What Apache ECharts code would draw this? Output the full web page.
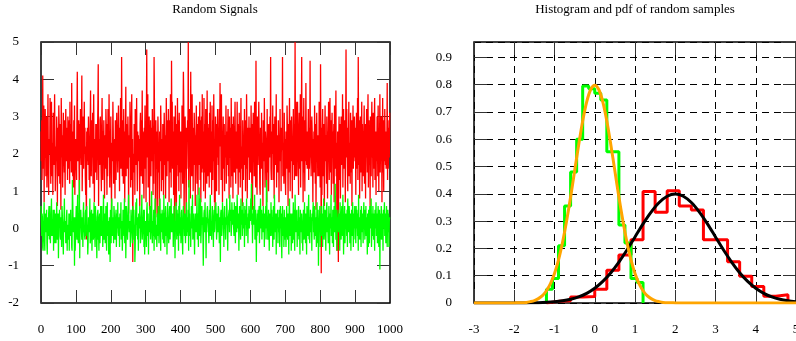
<!DOCTYPE html>
<html>
<head>
<meta charset="utf-8">
<script src="https://cdn.jsdelivr.net/npm/echarts@6/dist/echarts.min.js"></script>
<style>
  html, body { margin: 0; padding: 0; background: #fff; }
  #main { width: 796px; height: 341px; }
</style>
</head>
<body>
<div id="main"></div>
<script>
// signal samples, x = 0..999, 25 per row
const redSignal = [
  2.6, 1.8, 2.9, 1.3, 2.2, 4.1, 1.6, 2.5, 3.3, 0.7, 2.8, 1.9, 3.2, 2.4, 1.4, 2.8, 3.0, 1.1, 2.2, 2.5, 3.6, 1.5, 0.9, 2.4, 2.1,
  2.0, 3.5, 2.3, 1.2, 2.9, 3.4, 1.6, 1.4, 2.3, 0.9, 3.1, 2.7, 1.7, 2.6, 3.6, 2.2, 1.0, 1.5, 2.2, 1.8, 3.0, 2.4, 0.6, 2.7, 2.1,
  1.4, 3.3, 2.8, 2.1, 1.2, 2.8, 1.9, 0.5, 3.5, 2.6, 1.9, 2.5, 1.1, 1.7, 3.1, 2.0, 2.3, 1.5, 2.9, 0.9, 2.5, 3.2, 2.3, 1.8, 2.7,
  2.4, 1.3, 3.0, 2.0, 1.6, 2.2, 2.9, 1.2, 3.4, 1.8, 2.6, 2.8, 1.5, 3.9, 2.1, 2.0, 1.4, 2.6, 1.1, 2.9, 1.6, 3.3, 0.9, 2.2, 2.3,
  2.4, 1.7, 1.3, 3.1, 4.2, 2.2, 1.8, 2.5, 2.9, 1.6, 0.8, 2.8, 2.2, 3.2, 2.0, 1.7, 2.6, 4.1, 1.0, 1.9, 2.6, 3.0, 1.6, 2.3, 3.4,
  2.0, 2.7, 1.4, 0.9, 2.2, -0.3, 2.6, 1.8, 2.7, 2.4, 1.7, 3.0, 2.5, 1.3, 2.3, 1.1, 2.8, 3.7, 2.0, 1.4, 2.1, 2.9, 1.9, 3.1, 1.2,
  2.5, 3.6, 1.9, 0.7, 2.4, 2.2, 1.5, 2.8, 2.1, 2.8, 1.3, 1.9, 2.6, 3.3, 4.4, 0.6, 2.4, 2.0, 1.7, 2.9, 3.0, 2.2, 1.6, 1.0, 2.7,
  3.5, 2.1, 1.3, 2.6, 2.0, 2.9, 1.8, 0.8, 2.5, 2.3, 1.6, 3.2, 2.7, 2.1, 0.9, 2.8, 1.4, 3.2, 2.5, 1.9, 3.6, 2.3, 1.1, 2.6, 2.0,
  3.0, 1.5, 0.5, 2.3, 2.2, 1.8, 3.4, 2.6, 1.2, 2.0, 1.7, 2.4, 0.8, 2.9, 2.6, 1.3, 2.2, 3.1, 1.9, 2.0, 1.5, 2.7, 3.3, 1.8, 2.2,
  1.0, 2.7, 2.4, 3.5, 1.6, 2.0, 4.6, 2.3, 1.4, 2.9, 2.5, 1.2, 3.2, 2.2, 2.0, 0.7, 2.6, 2.4, 3.8, 1.4, 2.8, 2.1, 1.6, 1.8, 3.0,
  2.3, 0.4, 2.5, 2.2, 1.9, 3.4, 2.7, 1.1, 2.0, 2.7, 3.6, 1.3, 2.4, -0.9, 2.0, 1.6, 1.5, 2.8, 2.4, 0.9, 3.2, 2.6, 2.2, 1.7, 3.5,
  1.9, 1.0, 2.6, 2.1, 2.5, 1.8, 2.4, 1.4, 0.6, 2.8, 3.1, 2.0, 1.4, 2.9, 2.3, 3.7, 1.2, 2.6, 2.3, 1.5, 0.8, 2.7, 2.1, 3.3, 1.6,
  2.6, 0.7, 2.8, 4.8, 1.9, 2.4, 3.6, 1.1, 2.0, 2.4, 3.0, 0.5, 2.2, 1.7, 2.9, 1.4, 2.7, 2.0, 1.8, 3.2, 2.5, 0.9, 2.5, 1.2, 4.6,
  3.4, 2.1, 2.0, 0.4, 2.9, 1.6, 2.3, 2.6, 0.3, 1.8, 3.0, 2.4, 1.5, 2.2, 0.2, 2.6, 1.9, 1.8, 3.3, 2.7, 1.0, 2.4, 2.1, 1.3, 2.8,
  2.3, 0.9, 2.1, 3.1, 2.5, 1.7, 2.5, 0.8, 2.0, 3.5, 2.2, 1.4, 2.9, 2.0, 1.8, 3.2, 2.4, 0.7, 2.9, 1.5, 2.2, 3.6, 2.0, 1.1, 4.5,
  2.6, 3.4, 1.6, 2.3, 2.6, 0.9, 3.0, 1.9, -0.1, 1.2, 3.3, 2.1, 2.1, 0.6, 2.8, 1.7, 3.5, 2.2, 1.4, 2.9, 1.0, 3.1, 2.4, 1.5, 2.0,
  2.6, 0.8, 2.6, 1.5, 3.3, 2.2, 1.2, 2.8, 4.2, 3.4, 0.2, 1.9, 2.5, 3.0, 2.1, 1.3, 0.2, 2.7, 1.6, 2.4, 2.9, 2.4, 5.0, 1.1, 1.8,
  3.2, 2.6, 2.9, 0.8, 4.2, 2.0, 2.7, 1.4, 3.6, 2.3, 2.2, 1.0, 2.7, 1.7, 3.1, 2.6, 2.3, 0.6, 2.5, 1.9, 3.3, 2.0, 1.2, 2.8, 2.1,
  0.9, 3.0, 2.3, 1.7, 2.5, 3.4, 1.3, 2.9, 0.7, 2.2, 3.0, 1.5, 3.6, 1.6, 2.4, 2.6, 1.0, 3.5, 2.1, 1.5, 2.8, 0.8, 3.2, 1.9, 2.6,
  1.2, 3.7, 2.3, 1.4, 2.7, 2.0, 2.8, 1.1, 3.1, 2.3, 3.4, 1.5, 2.0, 2.6, 0.9, 3.3, 2.2, 1.3, 2.9, 1.8, 3.6, 2.4, 0.7, 2.4, 0.2,
  3.0, 2.2, 2.1, 1.0, 2.8, 1.9, 3.2, 2.7, 1.7, 2.5, 0.9, 3.2, 2.3, 3.9, 2.2, 2.9, 1.3, 3.6, 1.8, 2.6, 0.7, 2.4, 3.0, 1.6, 2.1,
  2.8, 1.0, 2.5, 1.9, 2.1, 3.3, 1.2, 2.6, 2.6, 1.7, 2.5, 3.2, 1.4, 2.3, 0.8, 3.0, 2.0, 1.9, 2.7, 1.1, 3.5, 2.4, 1.4, 2.8, 2.3,
  0.8, 3.0, 1.9, 2.2, 1.5, 2.7, 3.4, 2.0, 1.2, 2.5, 2.6, 1.6, 3.4, 2.2, 2.0, 0.9, 2.8, 1.5, 3.1, 1.8, 2.3, 1.1, 2.6, 3.5, 1.6,
  2.2, 1.8, 0.6, 2.9, 2.4, 1.3, 2.3, 1.7, 3.2, 2.0, 2.4, 1.0, 2.9, 1.6, 3.6, 2.5, 0.8, 2.2, 2.7, 1.9, 2.2, 3.0, 1.3, 2.7, 2.0,
  1.5, 2.2, 3.3, 2.1, 1.2, 2.8, 0.5, 2.1, 3.1, 1.9, 2.4, 1.4, 3.4, 2.6, 2.0, 1.1, 4.5, 1.8, 2.7, 0.9, 3.0, 2.3, 1.7, 2.5, 3.4,
  2.6, 2.0, 1.1, 0.9, 2.7, 2.3, 1.6, 3.1, 2.0, 2.3, 1.3, 0.6, 2.9, 2.5, 1.8, 3.5, 2.2, 1.1, 2.6, 2.4, 2.0, 1.5, 0.7, 3.2, 1.5,
  2.8, 2.6, 1.0, 2.1, 2.8, 1.9, 3.0, 2.4, 4.6, 1.6, 1.3, 2.6, 2.2, 2.0, 3.3, 1.3, 2.7, 2.8, 0.8, 2.2, 3.0, 1.7, 2.4, 2.0, 3.6,
  1.1, 2.5, 2.0, 1.6, 1.5, 2.9, 2.3, 0.7, 2.5, 1.9, 3.2, 1.8, 2.6, 1.0, 2.7, 2.3, 2.1, 4.6, 1.4, 2.0, 2.3, 1.2, 3.1, 1.9, 2.4,
  1.3, 0.9, 2.6, 2.1, 1.6, 3.3, 2.7, 2.0, 0.6, 2.8, 1.5, 2.2, 3.5, 2.2, 1.0, 2.5, 2.9, 1.8, 3.0, 2.3, 0.8, 2.4, 1.7, 3.2, 2.1,
  2.8, 1.3, 2.0, 5.0, 2.7, 1.4, 3.4, 2.1, 1.4, 2.3, 3.4, 2.6, 2.0, 0.9, 2.5, 3.1, 1.6, 2.2, 3.6, 1.1, 2.4, 2.8, 4.6, 1.8, 3.0,
  2.2, 0.7, 2.4, 3.5, 1.5, 2.1, 1.0, 2.9, 1.8, 3.9, 2.3, 1.7, 2.6, 1.6, 2.5, 2.2, 3.2, 1.3, 2.7, 1.6, 2.0, 4.5, 1.9, 2.9, 1.4,
  2.2, 3.0, 2.6, 2.0, 0.7, 2.4, 1.8, 2.6, 1.5, 3.3, 2.1, 1.2, 2.8, 0.5, 2.1, 3.1, 1.9, 2.4, 1.4, 2.5, 2.0, 1.4, 3.4, 2.6, 2.0,
  1.1, 4.4, 2.0, -1.2, 2.7, 0.9, 2.6, 3.2, 1.4, 2.2, 2.8, 1.7, 0.6, 2.4, 3.3, 1.8, 2.5, 2.1, 1.2, 3.0, 2.3, 0.8, 2.6, 1.9, 3.4,
  2.0, 1.3, 2.7, 3.5, 2.1, 1.5, 2.9, 0.9, 2.4, 3.1, 1.9, 2.6, 1.2, 2.2, 2.8, 0.7, 3.3, 2.0, 1.6, 2.5, 3.7, 1.4, 2.3, -0.6, 1.0,
  2.6, 1.5, -0.9, 2.2, 3.0, 1.3, 2.7, 2.8, 0.8, 2.2, 3.0, 1.7, 2.4, 2.0, 3.6, 1.1, 2.5, 3.2, 1.6, 1.9, 2.9, 2.3, 0.7, 2.5, 4.8,
  1.9, 3.2, 2.3, 1.8, 1.0, 2.7, 2.1, 3.4, 1.4, 2.0, 2.3, 1.2, 3.1, 2.6, 1.5, 2.9, 0.6, 2.8, 2.0, 3.3, 1.6, 2.4, 1.9, 3.0, 2.2,
  1.8, 2.7, 0.9, 2.5, 3.1, 1.6, 2.2, 3.5, 1.3, 4.6, 2.4, 1.7, 2.9, 0.8, 2.1, 3.0, 2.6, 1.5, 2.3, 3.4, 1.0, 2.8, 2.0, 1.4, 2.6,
  2.5, 3.3, 1.2, 2.0, 2.8, 0.8, 2.6, 1.9, 3.2, 2.3, 1.5, 2.7, 3.6, 1.1, 2.2, 2.9, 1.7, 2.4, 0.6, 3.0, 2.1, 1.4, 2.7, 3.4, 1.9,
  2.4, 1.1, 3.1, 2.2, 1.6, 2.8, 3.5, 1.3, 2.0, 2.6, 0.9, 2.4, 1.8, 3.0, 2.5, 1.4, 3.3, 2.1, 1.0, 2.7, 2.2, 3.6, 1.5, 2.3, 1.8,
  3.0, 2.2, 0.7, 2.4, 3.5, 1.5, 2.1, 1.0, 2.9, 1.8, 3.2, 2.3, 1.7, 2.6, 1.6, 2.5, 2.2, 3.9, 1.3, 2.7, 1.6, 2.0, 2.9, 1.9, 3.1
]
const greenSignal = [
  0.6, 0.1, -0.2, 0.4, 0.3, -0.5, -0.6, 0.1, 0.2, 0.7, -0.3, -0.6, 0.4, 0.2, -0.1, 0.0, 0.5, -0.4, -0.7, 0.3, 0.0, -0.2, 0.4, 0.6, -0.3,
  0.6, 0.1, -0.4, 0.2, 0.3, 0.8, -0.2, 0.0, -0.2, 0.1, 0.5, -0.6, 0.3, 0.5, -0.1, -0.4, 0.2, 0.4, -0.4, 0.2, 0.7, 0.0, -0.3, 0.3, 0.4,
  -0.8, 0.2, 0.1, 0.5, 0.3, -0.2, -0.3, 0.3, 0.0, -0.5, 0.6, 0.4, 0.0, -0.3, -0.7, 0.1, 0.3, 0.8, -0.1, 0.1, 0.2, -0.4, -0.4, 0.3, 0.5,
  -0.6, 0.1, 0.1, -0.3, -0.2, 0.4, -0.6, 0.4, 0.3, -0.2, 0.5, 0.0, 0.1, -0.5, -0.6, 1.3, 0.7, 0.2, -0.1, 0.1, 0.3, -1.0, 0.3, -0.6, -0.2,
  0.2, 0.6, 0.0, -0.3, 0.4, 0.9, -0.2, -0.4, 0.4, 0.0, 1.3, -0.8, 0.2, 0.1, 0.5, 0.5, -0.1, -0.3, 0.3, 0.1, -0.5, 0.4, 0.7, -0.1, 0.0,
  -0.2, -0.3, 0.4, 0.5, -0.2, 0.1, 0.6, 0.0, 0.1, -0.7, -0.4, 0.3, 0.2, -0.1, 0.1, 0.8, -0.4, -0.3, 0.2, 0.4, 0.5, -0.6, 0.0, 0.2, 0.4,
  -0.3, -0.2, 0.7, 0.1, -0.1, -0.5, 0.6, 0.2, 0.1, -0.2, -0.8, 0.3, 0.3, 0.5, -0.3, -0.1, -0.6, 0.3, 0.4, -0.4, 0.1, 0.6, -0.2, 0.2, 0.6,
  -0.2, 0.1, -0.5, -0.1, 0.9, 0.2, -0.3, 0.4, 0.3, -0.4, 0.0, 0.6, -0.1, -0.6, 0.4, 0.7, -0.2, 0.1, 0.2, -0.7, 0.0, 0.3, 0.2, -0.9, 0.5,
  0.2, -0.4, 0.6, 0.8, -0.1, -0.2, 0.1, 0.3, -0.4, 0.6, 0.4, -0.1, -0.3, 0.0, 0.3, 0.5, -0.5, 0.2, 0.4, 0.0, 0.7, -0.1, -0.2, 0.1, 0.3,
  -0.5, 0.4, 0.2, 0.0, 0.7, -0.3, 0.1, 0.2, -0.6, -0.2, 0.5, 0.3, 0.1, -0.2, 0.8, -0.4, 0.3, 0.6, -0.8, -0.1, 0.6, 0.4, 0.0, -0.3, -0.3,
  0.4, 0.9, 0.2, -0.1, 0.0, 0.2, -0.5, -0.1, 0.5, 0.3, 0.1, -0.2, -0.4, 0.6, -0.3, 0.2, 0.5, 0.0, 0.1, -0.9, -0.5, 0.3, 0.7, 0.1, 0.8,
  -0.2, 0.3, -0.3, 0.3, -0.6, 0.4, 0.1, 0.0, 0.6, 0.2, -0.4, -0.1, 0.2, 0.4, 0.9, -0.3, -0.1, 0.3, 0.2, 0.5, -0.5, 0.5, -0.7, -0.2, 0.1,
  0.2, 0.1, -0.5, 0.5, 0.7, 0.1, -0.2, 0.4, -0.7, 0.2, 0.0, -0.1, 0.6, 0.3, -0.3, 0.3, 0.3, 1.0, -0.1, -0.4, 0.2, -0.2, 0.1, 0.5, -0.6,
  0.3, 0.2, 0.8, -0.2, -0.3, 0.1, 0.1, -0.5, 0.4, 0.0, -0.2, 0.6, 0.2, -0.4, 0.3, 0.0, 0.8, -0.1, -0.6, 0.4, 0.2, -0.1, 0.5, 0.3, -0.3,
  0.4, -0.4, 0.9, 0.0, 0.1, -0.5, 0.3, 0.6, -0.2, 0.1, 0.3, -0.7, 0.4, 0.7, 0.0, 0.0, -0.4, 0.2, 0.5, 0.6, -0.3, 0.4, 0.3, 0.8, -0.1,
  0.2, -0.1, 0.4, 0.3, -0.5, 0.0, 0.6, 0.2, 0.1, -0.8, 0.0, 0.2, 0.7, 0.4, -0.3, 0.5, 0.1, -0.2, 0.4, -0.6, 0.6, 0.1, 0.9, -0.1, -0.2,
  0.3, -0.4, 0.4, 0.5, 0.0, -0.3, -0.7, 0.2, 0.6, 0.1, 0.2, -0.2, 0.4, 0.0, -0.4, 0.1, 0.4, 0.7, -0.2, 0.2, 0.3, -0.1, 0.5, -0.6, 1.3,
  0.0, 0.4, -0.2, 0.1, -0.5, 0.1, 0.6, 0.0, 0.3, 0.9, -0.3, -0.2, 0.3, 0.4, -0.1, -0.7, 0.1, 0.2, 0.4, -0.1, 0.1, 0.3, 0.9, -0.3, 0.4,
  0.3, -0.5, 0.6, 1.1, 0.1, -0.2, 0.2, 0.8, -0.4, -0.1, 0.5, 0.6, 0.1, 0.3, -0.2, -1.0, 0.0, 0.4, 0.5, -0.1, 0.7, 0.2, 0.1, -0.8, 0.3,
  -0.1, 0.5, 0.6, 0.3, 0.2, 0.0, -0.4, 0.1, 0.5, -0.2, 0.9, 0.4, -0.2, 0.2, -0.3, 0.1, 0.6, 0.0, 0.2, -0.5, 0.3, 0.5, -0.1, 0.0, 0.6,
  0.2, 0.7, 0.3, -0.3, -0.1, 0.4, 0.2, -0.1, 0.6, 0.5, 0.0, -0.4, 0.3, 0.1, -0.9, 0.4, 0.5, 0.2, -0.2, 0.0, 0.7, 0.3, 0.1, 0.2, -0.5,
  0.4, 0.6, 0.0, 0.2, -0.3, 0.3, 0.1, 0.8, 0.5, 0.0, -0.6, 0.2, 0.3, 0.4, 0.5, -0.1, 0.9, 0.2, 0.2, 0.5, -0.2, 0.1, 0.7, 0.3, 0.1,
  0.5, 0.2, 0.0, -0.2, 0.7, 0.4, 0.1, -0.4, 0.6, 0.3, 0.3, -0.1, 0.9, 0.5, 0.0, 0.2, 0.4, -0.6, 0.1, 0.6, 0.3, 0.2, -0.3, 0.8, 0.2,
  0.1, 0.5, -0.2, 0.3, 0.7, 0.0, 0.2, 0.4, -0.5, 0.6, 0.1, 0.3, 0.5, -0.2, 0.8, 0.0, 0.3, 0.1, -0.4, 0.4, 0.2, 0.6, 0.0, 0.3, 0.5,
  0.2, 0.8, 0.6, 1.2, 0.1, 0.4, -0.4, 0.2, 0.3, 0.6, 0.1, 0.3, 0.9, -0.3, 0.0, 0.5, 0.2, -0.9, 0.0, -0.2, 0.4, 0.2, 0.5, -0.1, 0.3,
  0.6, -0.4, 0.1, 0.3, 0.8, 0.0, 0.2, 0.5, -0.3, 0.4, 0.1, -0.1, 0.6, 0.3, 0.2, -0.5, 0.4, 0.0, 0.1, 0.6, -0.3, 1.3, 0.8, 0.0, 0.2,
  -0.3, 0.2, 0.5, 0.1, -0.6, 0.3, 0.4, 0.0, -0.2, 0.7, 0.1, 0.5, -0.2, 0.3, -0.5, 0.2, 0.6, 0.1, -0.3, 0.9, 0.0, -0.1, 0.2, 0.4, -0.7,
  0.4, 0.1, 0.0, 0.5, -0.4, 0.3, 0.2, -0.1, 0.5, -0.5, 0.3, 0.6, 0.0, 0.4, -0.3, -0.8, 0.2, 0.6, 0.1, -0.2, 0.3, -0.5, 0.5, 0.1, -0.3,
  0.3, 0.0, -0.5, 0.2, 0.6, 0.1, -0.2, -0.3, 0.4, 0.2, -0.7, 0.5, 0.8, 0.0, -0.2, 0.3, 0.4, -0.6, 0.0, 0.1, 0.4, -0.4, 0.2, 0.7, -0.3,
  0.2, 0.5, -0.6, 0.9, 0.3, -0.1, 0.0, 0.4, 0.5, -0.5, 0.2, -0.2, 0.1, 0.6, -0.3, 0.3, 0.0, -0.7, 0.5, 0.3, 0.1, -0.1, 0.4, -0.4, 0.2,
  -0.6, 0.2, 0.5, 0.1, -0.3, 0.7, 0.0, 0.3, -0.4, 0.4, 0.2, -0.7, 0.6, 0.1, 0.0, -0.2, 0.5, 0.9, -0.3, 0.3, -0.4, 0.1, 0.5, -0.1, 0.0,
  0.3, -0.6, 0.4, 0.2, 0.2, 0.7, -0.1, 0.0, -0.3, 0.6, 0.4, -0.2, 0.1, 0.3, -0.5, 0.2, 0.7, 0.0, -0.4, 0.5, -1.0, 0.1, -0.1, 0.3, 0.6,
  -0.5, 0.2, 0.4, -0.2, 0.6, -0.1, 0.4, -0.5, 0.3, 0.1, 0.8, -0.3, -0.1, 0.3, 0.5, 0.0, -0.6, 0.2, 0.5, 0.7, -0.1, 0.3, 0.0, -0.4, 0.2,
  0.6, 0.1, -0.7, 0.4, 0.2, 0.0, 0.9, -0.2, 0.1, 0.3, -0.4, 0.5, 0.2, -0.5, 0.3, 0.6, 0.0, -0.1, 1.2, 0.2, -0.3, 0.5, 0.0, -0.6, 0.3,
  0.1, 0.5, 0.0, -0.1, 0.4, 0.3, -0.6, 0.7, 0.1, 0.0, -0.3, 0.4, 0.6, 0.2, -0.2, 0.9, 0.1, -0.7, 0.3, 0.2, 0.6, -0.4, 0.1, 0.4, 0.0,
  0.3, -0.2, 0.5, -0.5, 0.8, 0.2, -0.1, 0.0, 0.6, 0.3, -0.4, 0.2, 0.4, -0.6, 0.1, 0.5, -0.2, 0.3, 0.7, 0.1, -0.5, 0.4, 0.0, 0.2, 0.6,
  -0.3, 0.3, -0.4, 0.6, 0.0, 0.5, 0.2, -0.2, 0.4, -0.6, 0.9, 0.1, 0.3, -0.3, 0.2, 0.0, 0.5, -0.5, 0.6, 0.2, -0.1, 0.4, 0.1, -0.4, 0.3,
  0.7, 0.0, 0.2, -0.3, 0.5, 0.1, 0.6, -0.2, 0.3, 0.0, -0.7, 0.4, 0.2, -0.5, 0.5, 0.1, -0.4, 0.6, 0.3, 0.0, 0.2, 0.8, -0.5, 0.1, 0.4,
  -0.2, 0.6, 0.1, -0.3, 0.4, 0.2, -0.6, 0.5, 0.0, 0.3, 0.7, -0.2, 0.1, 0.4, -0.4, 0.2, 0.6, 0.0, -0.5, 0.3, 0.5, -1.1, 0.2, 0.4, -0.3,
  0.6, 0.1, -0.3, 0.4, 0.2, -0.6, 0.5, 0.0, 0.3, 0.7, -0.2, 0.1, 0.4, -0.4, 0.2, 0.6, 0.0, -0.5, 0.3, 0.5, -0.1, 0.4, -0.5, 0.2, 0.3
]

// histograms (bin edges + bin heights)
const greenEdges = [-1.2, -1.05, -0.9, -0.75, -0.6, -0.45, -0.3, -0.15, 0, 0.15, 0.3, 0.45, 0.6, 0.75, 0.9, 1.05, 1.2]
const greenHeights = [0.05, 0.09, 0.21, 0.355, 0.48, 0.6, 0.795, 0.785, 0.768, 0.744, 0.554, 0.554, 0.286, 0.22, 0.09, 0.075]
const redEdges = [-1.2, -0.9, -0.6, -0.3, 0, 0.3, 0.6, 0.9, 1.2, 1.5, 1.8, 2.1, 2.4, 2.7, 3.0, 3.3, 3.6, 3.9, 4.2, 4.5, 4.8]
const redHeights = [0.006, 0.008, 0.022, 0.024, 0.05, 0.12, 0.176, 0.232, 0.408, 0.332, 0.411, 0.355, 0.341, 0.232, 0.232, 0.151, 0.098, 0.06, 0.025, 0.03]

// pdf curves
const orangeStart = -2, orangeStep = 0.1
const orangePdf = [0, 0.001, 0.001, 0.002, 0.005, 0.009, 0.016, 0.027, 0.045, 0.071, 0.108, 0.158, 0.222, 0.300, 0.388, 0.484, 0.579, 0.667, 0.737, 0.782, 0.798,
  0.782, 0.737, 0.667, 0.579, 0.484, 0.388, 0.300, 0.222, 0.158, 0.108, 0.071, 0.045, 0.027, 0.016, 0.009, 0.005, 0.002, 0.001, 0.001, 0]
const blackStart = -3, blackStep = 0.2
const blackPdf = [0, 0, 0, 0, 0.0001, 0.0001, 0.0003, 0.0006, 0.0012, 0.0024, 0.0044, 0.0079, 0.0136, 0.0224, 0.0355, 0.054, 0.079, 0.111, 0.150, 0.194, 0.242,
  0.290, 0.333, 0.368, 0.391, 0.399, 0.391, 0.368, 0.333, 0.290, 0.242, 0.194, 0.150, 0.111, 0.079, 0.054, 0.0355, 0.0224, 0.0136, 0.0079, 0.0044]

const fontName = 'Liberation Serif'
const labelStyle = { color: '#000', fontFamily: fontName, fontSize: 13 }
const tickStyle = { show: true, inside: true, length: 13, lineStyle: { color: '#333', width: 1 } }
const noLine = { show: false, onZero: false }
const dashGrid = { show: true, lineStyle: { color: '#000', width: 1, type: [7, 5] } }

const stepPoints = (edges, heights) => {
  const pts = [[edges[0], 0]]
  heights.forEach((h, i) => pts.push([edges[i], h]))
  pts.push([edges[edges.length - 1], 0])
  return pts
}
const curvePoints = (start, step, vals) => vals.map((v, i) => [+(start + i * step).toFixed(2), v])

const chart = echarts.init(document.getElementById('main'))

const option = {
  animation: false,
  backgroundColor: '#fff',
  graphic: [
    { type: 'text', x: 215, y: 10, style: { text: 'Random Signals', font: '13px "Liberation Serif"', fill: '#000', align: 'center', verticalAlign: 'middle' } },
    { type: 'text', x: 635, y: 10, style: { text: 'Histogram and pdf of random samples', font: '13px "Liberation Serif"', fill: '#000', align: 'center', verticalAlign: 'middle' } }
  ],
  grid: [
    { left: 41, top: 42, width: 349, height: 261, outerBoundsMode: 'none', containLabel: false,
      show: true, borderColor: '#000', borderWidth: 1.5, backgroundColor: 'transparent' },
    { left: 474, top: 42, width: 322, height: 261, outerBoundsMode: 'none', containLabel: false,
      show: true, borderColor: '#000', borderWidth: 1.5, backgroundColor: 'transparent' }
  ],
  xAxis: [
    { gridIndex: 0, type: 'value', min: 0, max: 1000, interval: 100, position: 'bottom',
      axisLine: noLine, axisTick: tickStyle, splitLine: { show: false },
      axisLabel: { ...labelStyle, margin: 20, formatter: v => String(v) } },
    { gridIndex: 0, type: 'value', min: 0, max: 1000, interval: 100, position: 'top',
      axisLine: noLine, axisTick: tickStyle, splitLine: { show: false }, axisLabel: { show: false } },
    { gridIndex: 1, type: 'value', min: -3, max: 5, interval: 1, position: 'bottom',
      axisLine: noLine, axisTick: tickStyle, splitLine: dashGrid,
      axisLabel: { ...labelStyle, margin: 20 } },
    { gridIndex: 1, type: 'value', min: -3, max: 5, interval: 1, position: 'top',
      axisLine: noLine, axisTick: tickStyle, splitLine: { show: false }, axisLabel: { show: false } }
  ],
  yAxis: [
    { gridIndex: 0, type: 'value', min: -2, max: 5, interval: 1, position: 'left',
      axisLine: noLine, axisTick: tickStyle, splitLine: { show: false },
      axisLabel: { ...labelStyle, margin: 22, padding: [6, 0, 0, 0] } },
    { gridIndex: 0, type: 'value', min: -2, max: 5, interval: 1, position: 'right',
      axisLine: noLine, axisTick: tickStyle, splitLine: { show: false }, axisLabel: { show: false } },
    { gridIndex: 1, type: 'value', min: 0, max: 0.956, interval: 0.1, position: 'left',
      axisLine: noLine, axisTick: tickStyle, splitLine: dashGrid,
      axisLabel: { ...labelStyle, margin: 22, padding: [6, 0, 0, 0], showMaxLabel: false } },
    { gridIndex: 1, type: 'value', min: 0, max: 0.956, interval: 0.1, position: 'right',
      axisLine: noLine, axisTick: tickStyle, splitLine: { show: false }, axisLabel: { show: false } }
  ],
  series: [
    { type: 'line', xAxisIndex: 0, yAxisIndex: 0, symbol: 'none', silent: true,
      lineStyle: { color: '#ff0000', width: 1.3 },
      data: redSignal.map((v, i) => [i, v]) },
    { type: 'line', xAxisIndex: 0, yAxisIndex: 0, symbol: 'none', silent: true,
      lineStyle: { color: '#00ff00', width: 1.3 },
      data: greenSignal.map((v, i) => [i, v]) },
    { type: 'line', xAxisIndex: 2, yAxisIndex: 2, symbol: 'none', step: 'end', silent: true,
      lineStyle: { color: '#ff0000', width: 3 },
      data: stepPoints(redEdges, redHeights) },
    { type: 'line', xAxisIndex: 2, yAxisIndex: 2, symbol: 'none', step: 'end', silent: true,
      lineStyle: { color: '#00ff00', width: 3 },
      data: stepPoints(greenEdges, greenHeights) },
    { type: 'line', xAxisIndex: 2, yAxisIndex: 2, symbol: 'none', smooth: 0.3, silent: true,
      lineStyle: { color: '#000', width: 3 },
      data: curvePoints(blackStart, blackStep, blackPdf) },
    { type: 'line', xAxisIndex: 2, yAxisIndex: 2, symbol: 'none', smooth: 0.3, silent: true,
      lineStyle: { color: '#ffa500', width: 3 },
      data: [[-3, 0], ...curvePoints(orangeStart, orangeStep, orangePdf), [5, 0]] }
  ]
}
chart.setOption(option)
</script>
</body>
</html>
